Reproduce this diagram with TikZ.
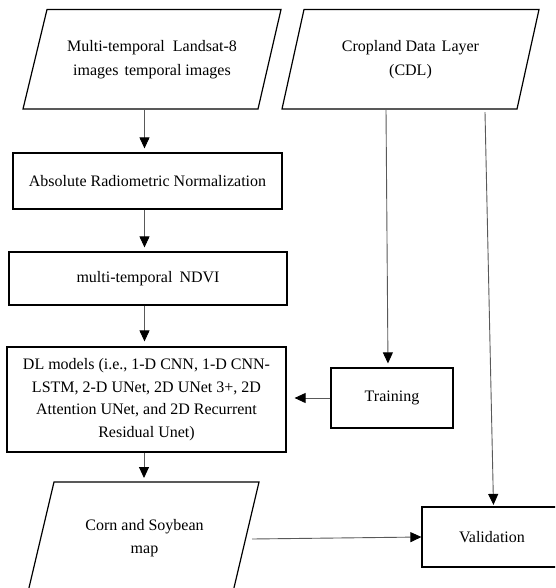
\documentclass[tikz,border=0pt]{standalone}
\usepackage{fontspec}
\setmainfont{Liberation Serif}
\usetikzlibrary{arrows.meta,calc}
\begin{document}
\begin{tikzpicture}[x=1pt,y=1pt,
  font=\fontsize{16}{22.5}\selectfont,
  box/.style={draw=black, line width=1.2pt, align=center, inner sep=0pt},
  para/.style={draw=black, line width=1.2pt, line join=miter},
  lbl/.style={align=center, inner sep=0pt},
  conn/.style={draw=black!65, line width=0.9pt, -{Triangle[width=10pt,length=11pt,color=black]}}
]
\useasboundingbox (0,0) rectangle (555,-588);
\clip (0,0) rectangle (555,-588);
\fill[white] (0,0) rectangle (555,-588);

% input parallelograms
\draw[para] (47,-9.5) -- (281,-9.5) -- (258,-109) -- (23,-109) -- cycle;
\node[lbl, minimum width=211pt, minimum height=99.5pt, font=\fontsize{16}{24}\selectfont] (src) at (152,-59.25)
  {Multi-temporal\hspace{4pt} Landsat-8\\images\hspace{2pt} temporal images};

\draw[para] (304,-9.5) -- (539,-9.5) -- (517,-109) -- (282,-109) -- cycle;
\node[lbl, minimum width=212pt, minimum height=99.5pt, font=\fontsize{16}{24}\selectfont] (cdl) at (410.5,-59.25)
  {Cropland Data\hspace{2pt} Layer\\(CDL)};

% process boxes
\node[box, minimum width=269pt, minimum height=56pt] (arn) at (147.5,-181) {Absolute Radiometric Normalization};
\node[box, minimum width=278pt, minimum height=53pt] (ndvi) at (148,-278.5) {multi-temporal\hspace{3pt} NDVI};
\node[box, minimum width=279pt, minimum height=105pt] (dl) at (146.5,-399.5)
  {DL models (i.e., 1-D CNN, 1-D CNN-\\LSTM, 2-D UNet, 2D UNet 3+, 2D\\Attention UNet, and 2D Recurrent\\Residual Unet)};
\node[box, minimum width=122pt, minimum height=60pt] (train) at (392,-398) {Training};
\node[box, minimum width=140pt, minimum height=60pt] (val) at (492,-537) {Validation};

% output parallelogram (cut by the frame)
\draw[para] (54,-482) -- (259,-482) -- (231.1,-600) -- (26.1,-600) -- cycle;
\node[lbl] (corn) at (144.5,-538) {Corn and Soybean\\map};
\coordinate (corntop) at (144,-482);
\coordinate (cornout) at (252,-539);

% connectors
\coordinate (ax) at (144.5,0);
\draw[conn, shorten >=4pt] (src.south -| ax) -- (arn.north -| ax);
\draw[conn, shorten >=4pt] (arn.south -| ax) -- (ndvi.north -| ax);
\draw[conn, shorten >=5pt] (ndvi.south -| ax) -- (dl.north -| ax);
\draw[conn, shorten >=4pt] (dl.south -| corntop) -- (corntop);
\draw[conn, shorten >=8pt] (train.west) -- (dl.east |- train.west);
\draw[conn, shorten >=4pt] ($(cdl.south)+(-24.5,0)$) -- ($(train.north)+(-4,0)$);
\draw[conn, shorten >=1.5pt] ($(cdl.south)+(74.5,-3)$) -- ($(val.north)+(1.5,0)$);
\draw[conn] (cornout) -- (val.west);
\end{tikzpicture}
\end{document}
